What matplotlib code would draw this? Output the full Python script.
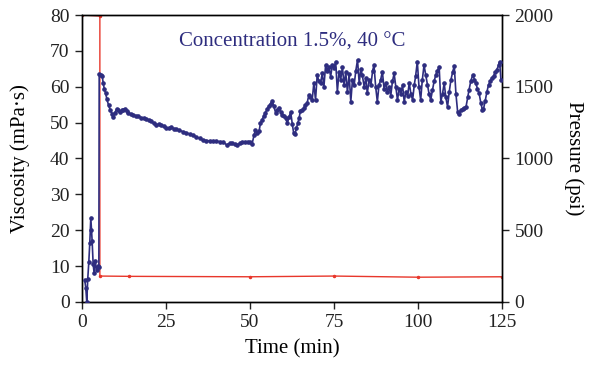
import numpy as np
import matplotlib
matplotlib.use("Agg")
import matplotlib.pyplot as plt

plt.rcParams['font.family'] = ['Liberation Serif', 'DejaVu Serif']

# Viscosity curve (min, mPa·s)
tiempo_visc = [0.8, 1.1, 1.4, 1.7, 2.0, 2.3, 2.6, 2.8, 3.0, 3.3, 3.6, 3.9, 4.3, 4.7, 5.0,
               5.1, 5.6, 6.0, 6.3, 6.6, 7.0, 7.4, 7.9, 8.4, 8.9, 9.3, 9.8, 10.3, 10.8,
               11.3, 11.8, 12.3, 12.8, 13.3, 13.8, 14.5, 15.3, 16.0, 16.8, 17.5, 18.3,
               19.0, 19.8, 20.5, 21.3, 22.0, 22.8, 23.5, 24.3, 25.0, 25.8, 26.5, 27.3,
               28.0, 29.0, 30.0, 31.0, 32.0, 33.0, 34.0, 35.0, 36.0, 37.0, 38.0, 39.0,
               40.0, 41.0, 42.0, 43.0, 44.0, 44.7, 45.5, 46.2, 47.0, 47.7, 48.5, 49.3,
               50.0, 50.6, 51.2, 51.6, 52.2, 52.7, 53.1, 53.6, 54.1, 54.6, 55.1, 55.6,
               56.1, 56.6, 57.1, 57.6, 58.1, 58.6, 59.1, 59.6, 60.1, 60.6, 61.1, 61.6,
               62.1, 62.6, 63.0, 63.4, 63.8, 64.2, 64.6, 65.0, 65.5, 66.0, 66.5, 67.0,
               67.5, 68.0, 68.5, 69.0, 69.5, 70.0, 70.5, 71.0, 71.5, 72.0, 72.5, 73.0,
               73.5, 74.0, 74.5, 75.0, 75.5, 76.0, 76.5, 77.0, 77.5, 78.0, 78.5, 79.0,
               79.5, 80.0, 80.5, 81.0, 81.5, 82.0, 82.5, 83.0, 83.4, 84.0, 84.5, 84.9,
               85.5, 86.0, 86.5, 86.9, 87.4, 87.9, 88.4, 88.9, 89.4, 89.9, 90.4, 90.9,
               91.4, 91.9, 92.4, 92.9, 93.4, 93.9, 94.4, 94.9, 95.4, 95.9, 96.4, 96.9,
               97.4, 97.9, 98.4, 98.9, 99.3, 99.8, 100.3, 100.8, 101.3, 101.8, 102.3,
               102.8, 103.3, 103.8, 104.3, 104.8, 105.3, 105.8, 106.3, 106.8, 107.3,
               107.8, 108.3, 108.8, 109.3, 109.8, 110.3, 110.8, 111.3, 111.8, 112.3,
               112.8, 113.3, 113.8, 114.3, 114.8, 115.2, 115.7, 116.3, 116.8, 117.2,
               117.7, 118.2, 118.7, 119.2, 119.5, 120.0, 120.5, 121.0, 121.5, 122.0,
               122.5, 123.0, 123.5, 124.0, 124.3, 124.7]
viscosidad = [6.0, 4.0, 0.0, 6.5, 11.0, 16.5, 23.5, 20.0, 17.0, 10.5, 8.0, 11.5, 9.0, 10.0, 9.8,
              63.5, 63.4, 63.0, 61.0, 59.5, 58.2, 56.5, 54.8, 53.5, 52.5, 51.6, 52.8, 53.8, 53.4,
              53.0, 53.4, 53.6, 53.9, 53.2, 52.6, 52.3, 52.1, 51.9, 51.7, 51.4, 51.2,
              50.9, 50.7, 50.4, 49.8, 49.4, 49.5, 49.2, 49.0, 48.6, 48.5, 48.7, 48.3,
              48.1, 47.8, 47.5, 47.2, 46.8, 46.5, 46.0, 45.6, 45.1, 45.0, 44.9, 44.8,
              44.8, 44.7, 44.6, 43.8, 44.2, 44.4, 43.9, 43.7, 44.2, 44.6, 44.6, 44.7,
              44.6, 44.0, 46.5, 47.9, 47.2, 47.6, 49.8, 50.8, 51.8, 52.8, 53.8, 54.6,
              55.3, 56.0, 54.5, 52.8, 53.6, 54.2, 53.0, 52.1, 51.7, 51.2, 49.8, 51.5,
              53.0, 49.5, 47.0, 46.8, 48.4, 49.8, 51.2, 53.3, 53.6, 54.0, 54.9, 55.4,
              57.7, 57.0, 56.3, 61.0, 56.3, 63.3, 61.5, 61.0, 63.7, 60.0, 66.0, 64.5,
              65.6, 62.8, 66.0, 65.2, 67.0, 58.6, 64.2, 62.0, 65.5, 60.5, 64.0, 58.5,
              63.5, 55.8, 62.0, 60.5, 64.5, 67.5, 61.0, 65.0, 63.3, 60.0, 62.5, 58.2,
              62.0, 60.5, 64.5, 66.0, 60.0, 55.8, 60.5, 62.0, 64.2, 59.5, 61.0, 58.5,
              60.0, 57.5, 61.5, 63.7, 60.0, 56.3, 59.5, 58.0, 60.5, 55.8, 58.5, 57.5,
              61.0, 58.0, 56.3, 60.5, 63.0, 67.0, 60.0, 56.3, 62.0, 66.0, 63.3,
              60.5, 58.0, 56.3, 59.0, 61.5, 63.3, 64.5, 65.6, 55.8, 58.0,
              61.0, 57.0, 54.4, 58.5, 61.9, 64.0, 65.8, 58.0, 53.0, 52.5,
              53.5, 53.8, 54.0, 54.4, 57.0, 59.1, 61.5, 63.3, 62.0, 61.0,
              59.5, 58.2, 55.5, 53.5, 53.8, 56.0, 58.5, 60.5, 61.5, 62.5,
              63.0, 64.0, 64.8, 66.0, 67.0, 61.9]

# Pressure curve (min, psi)
tiempo_pres = [0, 5.3, 5.3, 14, 50, 75, 100, 125]
presion = [2000, 1993, 180, 178, 175, 180, 172, 175]

azul = '#2e2d7f'
rojo = '#e8372b'

fig = plt.figure(figsize=(5.99, 3.75), dpi=100)
ax = fig.add_axes([0.137, 0.195, 0.701, 0.765])
ax2 = ax.twinx()

ax2.plot(tiempo_pres, presion, color=rojo, lw=1.0, marker='o', ms=1.5, zorder=1)
ax.plot(tiempo_visc, viscosidad, color=azul, lw=1.2, marker='o', ms=2.3, zorder=3)
ax.set_zorder(ax2.get_zorder() + 1)
ax.patch.set_visible(False)

ax.set_xlim(0, 125)
ax.set_ylim(0, 80)
ax2.set_ylim(0, 2000)
ax.set_xticks([0, 25, 50, 75, 100, 125])
ax.set_yticks(np.arange(0, 81, 10))
ax2.set_yticks([0, 500, 1000, 1500, 2000])

for a in (ax, ax2):
    a.tick_params(labelsize=14, direction='out', length=5, width=1, colors='#222222', pad=4)
    for s in a.spines.values():
        s.set_linewidth(1.0)

ax.set_xlabel("Time (min)", fontsize=15, labelpad=6)
ax.set_ylabel("Viscosity (mPa·s)", fontsize=15, labelpad=14)
ax2.set_ylabel("Pressure (psi)", fontsize=15, rotation=270, labelpad=22)

ax.text(62.6, 72.5, "Concentration 1.5%, 40 °C", color=azul, fontsize=15,
        ha='center', va='center')

plt.savefig("out.png", dpi=100)
